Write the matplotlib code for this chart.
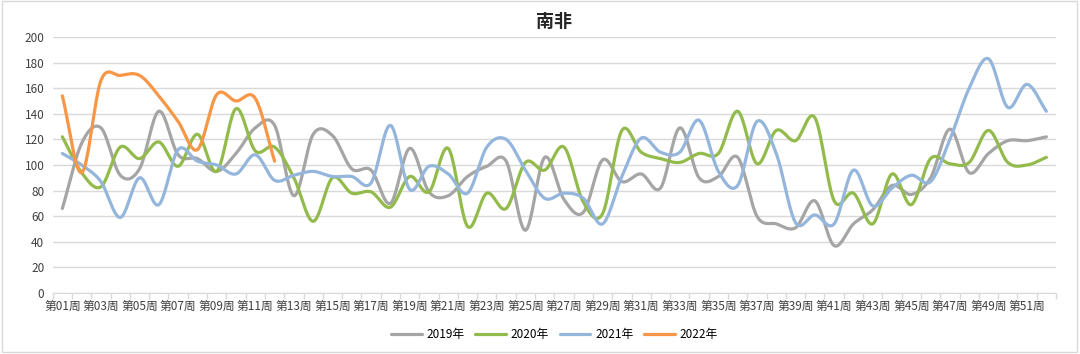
import matplotlib
matplotlib.use("Agg")
import matplotlib.pyplot as plt
from matplotlib.patches import Rectangle
import numpy as np

plt.rcParams['font.family'] = ['Noto Sans CJK SC', 'DejaVu Sans']

weeks = ["第%02d周" % i for i in range(1, 53)]

# 数据
y2019 = [66, 117, 129, 92, 97, 142, 108, 105, 95, 109, 129, 131, 76, 124, 123, 97,
         96, 70, 113, 79, 76, 91, 99, 103, 49, 106, 73, 63, 104, 87, 93, 82,
         129, 90, 91, 106, 60, 54, 51, 72, 37, 54, 65, 84, 77, 90, 128, 94,
         109, 119, 119, 122]
y2020 = [122, 94, 83, 114, 105, 118, 99, 124, 95, 144, 111, 114, 90, 56, 90, 78,
         79, 67, 91, 79, 113, 52, 78, 66, 102, 96, 114, 71, 62, 127, 110, 105,
         102, 109, 109, 142, 101, 127, 119, 137, 72, 78, 54, 93, 69, 105, 101, 102,
         127, 102, 100, 106]
y2021 = [109, 100, 87, 59, 90, 69, 112, 103, 100, 93, 108, 88, 92, 95, 91, 91,
         86, 131, 81, 99, 93, 78, 114, 120, 96, 74, 78, 74, 54, 91, 121, 110,
         110, 135, 95, 84, 134, 109, 55, 61, 54, 96, 68, 82, 92, 87, 120, 160,
         183, 145, 163, 142]
y2022 = [154, 94, 166, 170, 170, 154, 134, 112, 155, 150, 152, 103]

series = [("2019年", y2019, "#A5A5A5"),
          ("2020年", y2020, "#93BB4C"),
          ("2021年", y2021, "#95B6DC"),
          ("2022年", y2022, "#F79646")]


def smooth(x, y, n=20):
    # Catmull-Rom 平滑，类似 Excel 的平滑线
    x = np.asarray(x, float)
    y = np.asarray(y, float)
    px = np.concatenate([[2 * x[0] - x[1]], x, [2 * x[-1] - x[-2]]])
    py = np.concatenate([[2 * y[0] - y[1]], y, [2 * y[-1] - y[-2]]])
    xs, ys = [], []
    t = np.linspace(0, 1, n, endpoint=False)
    for i in range(1, len(px) - 2):
        for arr, out in ((px, xs), (py, ys)):
            p0, p1, p2, p3 = arr[i - 1], arr[i], arr[i + 1], arr[i + 2]
            out.extend(0.5 * ((2 * p1) + (-p0 + p2) * t
                              + (2 * p0 - 5 * p1 + 4 * p2 - p3) * t ** 2
                              + (-p0 + 3 * p1 - 3 * p2 + p3) * t ** 3))
    xs.append(x[-1])
    ys.append(y[-1])
    return np.array(xs), np.array(ys)


fig = plt.figure(figsize=(10.8, 3.54), dpi=100)
ax = fig.add_axes([0.0488, 0.1723, 0.9290, 0.7232])

for name, vals, color in series:
    xs, ys = smooth(np.arange(len(vals)), vals)
    ax.plot(xs, ys, color=color, lw=2.3, label=name, solid_capstyle='round')

ax.set_ylim(0, 200)
ax.set_yticks(range(0, 201, 20))
ax.set_xlim(-0.5, 51.5)
ax.set_xticks(np.arange(0, 52, 2))
ax.set_xticklabels(weeks[::2])
ax.set_xticks(np.arange(-0.5, 52, 1), minor=True)
ax.tick_params(axis='x', which='major', length=0, labelsize=8.5, colors='#404040', pad=5)
ax.tick_params(axis='x', which='minor', length=4, color='#D9D9D9', width=1)
ax.tick_params(axis='y', length=0, labelsize=8.5, colors='#404040', pad=6)
ax.grid(axis='y', color='#D9D9D9', lw=1)
ax.set_axisbelow(True)
for s in ['top', 'right', 'left']:
    ax.spines[s].set_visible(False)
ax.spines['bottom'].set_color('#D9D9D9')

ax.set_title("南非", fontsize=13, fontweight='bold', color='#262626', pad=7)

ax.legend(loc='upper center', bbox_to_anchor=(0.5, -0.095), ncol=4, frameon=False,
          fontsize=8.5, handlelength=2.6, columnspacing=0.9, handletextpad=0.4)

fig.patches.append(Rectangle((0.002, 0.005), 0.995, 0.993, transform=fig.transFigure,
                             fill=False, edgecolor='#D9D9D9', lw=1))

fig.savefig("out.png", dpi=100)
